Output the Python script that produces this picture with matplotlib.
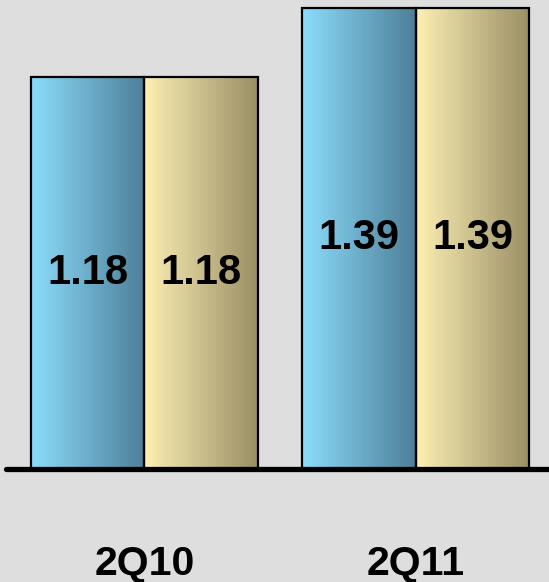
import numpy as np
import matplotlib.pyplot as plt
from matplotlib.colors import LinearSegmentedColormap

plt.rcParams['font.family'] = ['Liberation Sans', 'DejaVu Sans']

quarters = ["2Q10", "2Q11"]
series_a = [1.18, 1.39]
series_b = [1.18, 1.39]

bg = "#dedede"
blue_cmap = LinearSegmentedColormap.from_list("blue", ["#8cdcfc", "#4e7f98"])
gold_cmap = LinearSegmentedColormap.from_list("gold", ["#fcf0b4", "#9a8e66"])

fig = plt.figure(figsize=(5.49, 5.82), dpi=100, facecolor=bg)
ax = fig.add_axes([6 / 549, 113 / 582, 1 - 6 / 549, 463 / 582])
ax.set_facecolor(bg)

w = 0.418
x = np.arange(len(quarters))
ramp = np.linspace(0, 1, 256).reshape(1, -1)


def gradient_bars(xs, vals, cmap):
    bars = ax.bar(xs, vals, w, facecolor="none", edgecolor="black", linewidth=1.6, zorder=3)
    for bar in bars:
        x0, y0 = bar.get_x(), bar.get_y()
        im = ax.imshow(ramp, cmap=cmap, aspect="auto", zorder=2,
                       extent=[x0, x0 + bar.get_width(), y0, y0 + bar.get_height()])
        im.set_clip_path(bar)
    for xi, v in zip(xs, vals):
        ax.text(xi, v / 2, f"{v:.2f}", ha="center", va="center", fontsize=30,
                fontweight="bold", zorder=4)
    return bars


gradient_bars(x - w / 2, series_a, blue_cmap)
gradient_bars(x + w / 2, series_b, gold_cmap)

ax.axhline(0, color="black", linewidth=3.8, solid_capstyle="round", zorder=5, clip_on=False)

ax.set_xlim(-0.51, 1.49)
ax.set_ylim(0, 1.395)
ax.set_xticks(x)
ax.set_xticklabels(quarters, fontsize=29.5, fontweight="bold")
ax.tick_params(axis="x", length=0, pad=55)
ax.set_yticks([])
for s in ax.spines.values():
    s.set_visible(False)

fig.savefig("out.png", dpi=100, facecolor=bg)
